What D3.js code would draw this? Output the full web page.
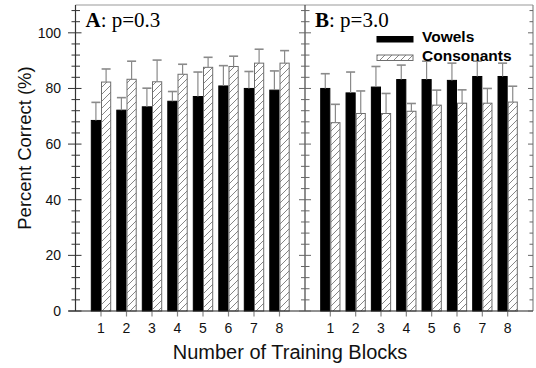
<!DOCTYPE html>
<html>
<head>
<meta charset="utf-8">
<script src="https://cdn.jsdelivr.net/npm/d3@7"></script>
<style>
  html, body { margin: 0; padding: 0; background: #fff; }
  svg { display: block; }
</style>
</head>
<body>
<svg id="chart" width="536" height="368"></svg>
<script>
// ---------------- data ----------------
const blocks = [1, 2, 3, 4, 5, 6, 7, 8];
const yTickLabels = [0, 20, 40, 60, 80, 100];
const seriesNames = ["Vowels", "Consonants"];
const panelLabels = [["A", ": p=0.3"], ["B", ": p=3.0"]];

const vowelsA     = [68.5, 72.2, 73.4, 75.4, 77.1, 80.9, 80.0, 79.4];
const vowelsErrA  = [6.5, 4.5, 6.7, 3.5, 8.8, 7.3, 6.1, 6.9];
const consA       = [82.3, 83.3, 82.4, 85.1, 87.6, 87.9, 89.1, 89.1];
const consErrA    = [4.7, 6.5, 7.8, 3.6, 3.6, 3.7, 5.0, 4.5];

const vowelsB     = [80.0, 78.4, 80.5, 83.2, 83.2, 82.9, 84.3, 84.3];
const vowelsErrB  = [5.3, 7.5, 7.4, 5.2, 6.6, 6.2, 5.5, 4.8];
const consB       = [67.7, 71.0, 71.0, 71.8, 74.0, 74.7, 74.7, 75.1];
const consErrB    = [6.6, 8.1, 7.2, 2.8, 5.4, 4.8, 5.3, 5.7];

// ---------------- layout ----------------
const svg = d3.select("#chart");
const yTop = 5, yBottom = 311;
const panelsX = [[75.5, 305], [305, 533]];
const y = d3.scaleLinear().domain([0, 110]).range([yBottom, yTop]);

const hs = 7;
const defs = svg.append("defs");
const pat = defs.append("pattern")
  .attr("id", "hatch").attr("patternUnits", "userSpaceOnUse")
  .attr("width", hs).attr("height", hs);
pat.append("rect").attr("width", hs).attr("height", hs).attr("fill", "#fff");
pat.append("path").attr("d", `M-1,${hs + 1} L${hs + 1},-1 M-1,1 L1,-1 M${hs - 1},${hs + 1} L${hs + 1},${hs - 1}`)
  .attr("stroke", "#707070").attr("stroke-width", 0.85);

const sans = "'Liberation Sans', Arial, Helvetica, sans-serif";
const serif = "'Liberation Serif', 'Times New Roman', serif";

const panelData = [
  { v: vowelsA, ve: vowelsErrA, c: consA, ce: consErrA },
  { v: vowelsB, ve: vowelsErrB, c: consB, ce: consErrB }
];

const minorTicks = d3.range(0, 110.01, 4);

panelData.forEach((pd, pi) => {
  const [x0, x1] = panelsX[pi];
  const x = d3.scaleLinear().domain([0, 9]).range([x0, x1]);
  const bw = (x(1) - x(0)) * 0.4;
  const g = svg.append("g");

  const series = [
    { vals: pd.v, errs: pd.ve, off: -bw, fill: "#000", stroke: "#000" },
    { vals: pd.c, errs: pd.ce, off: 0, fill: "url(#hatch)", stroke: "#6e6e6e" }
  ];
  series.forEach(s => {
    g.selectAll(null).data(blocks).enter().append("rect")
      .attr("x", d => x(d) + s.off + 0.5)
      .attr("width", bw - 1)
      .attr("y", (d, i) => y(s.vals[i]))
      .attr("height", (d, i) => yBottom - y(s.vals[i]))
      .attr("fill", s.fill).attr("stroke", s.stroke).attr("stroke-width", 1);
  });
  series.forEach(s => {
    const eg = g.selectAll(null).data(blocks).enter().append("g");
    eg.append("line")
      .attr("x1", d => x(d) + s.off + bw / 2).attr("x2", d => x(d) + s.off + bw / 2)
      .attr("y1", (d, i) => y(s.vals[i])).attr("y2", (d, i) => y(s.vals[i] + s.errs[i]))
      .attr("stroke", "#8a8a8a").attr("stroke-width", 1.2);
    eg.append("line")
      .attr("x1", d => x(d) + s.off + bw / 2 - 4.5).attr("x2", d => x(d) + s.off + bw / 2 + 4.5)
      .attr("y1", (d, i) => y(s.vals[i] + s.errs[i])).attr("y2", (d, i) => y(s.vals[i] + s.errs[i]))
      .attr("stroke", "#8a8a8a").attr("stroke-width", 1.6);
  });

  g.selectAll(null).data(blocks).enter().append("line")
    .attr("x1", d => x(d)).attr("x2", d => x(d))
    .attr("y1", yBottom).attr("y2", yBottom + 5.5)
    .attr("stroke", "#888").attr("stroke-width", 1.2);
  g.selectAll(null).data(blocks).enter().append("text")
    .attr("x", d => x(d)).attr("y", yBottom + 22)
    .attr("text-anchor", "middle")
    .attr("font-family", sans).attr("font-size", 14).attr("fill", "#111")
    .text(d => d);

  const t = g.append("text").attr("x", x0 + 10).attr("y", 27)
    .attr("font-family", serif).attr("font-size", 21).attr("fill", "#000");
  t.append("tspan").attr("font-weight", "bold").text(panelLabels[pi][0]);
  t.append("tspan").text(panelLabels[pi][1]);
});

// frame
svg.append("line").attr("x1", panelsX[0][0]).attr("x2", panelsX[1][1])
  .attr("y1", yTop).attr("y2", yTop).attr("stroke", "#999").attr("stroke-width", 1.2);
svg.append("line").attr("x1", panelsX[1][1]).attr("x2", panelsX[1][1])
  .attr("y1", yTop).attr("y2", yBottom).attr("stroke", "#888").attr("stroke-width", 1.2);
svg.append("line").attr("x1", panelsX[0][0]).attr("x2", panelsX[0][0])
  .attr("y1", yTop).attr("y2", yBottom).attr("stroke", "#333").attr("stroke-width", 1.2);
svg.append("line").attr("x1", panelsX[1][0]).attr("x2", panelsX[1][0])
  .attr("y1", yTop).attr("y2", yBottom).attr("stroke", "#444").attr("stroke-width", 1.2);
svg.append("line").attr("x1", panelsX[0][0] - 7).attr("x2", panelsX[1][1])
  .attr("y1", yBottom).attr("y2", yBottom).attr("stroke", "#222").attr("stroke-width", 1.2);

// y ticks
const isMajor = v => yTickLabels.includes(v);
[panelsX[0][0], panelsX[1][0]].forEach((ax, k) => {
  svg.selectAll(null).data(minorTicks).enter().append("line")
    .attr("x1", d => ax - (isMajor(d) ? (k === 0 ? 7.5 : 6) : 4))
    .attr("x2", d => ax + (isMajor(d) ? 6 : 4.5))
    .attr("y1", d => y(d)).attr("y2", d => y(d))
    .attr("stroke", k === 0 ? "#333" : "#666").attr("stroke-width", 1);
});
svg.selectAll(null).data(minorTicks).enter().append("line")
  .attr("x1", d => panelsX[1][1] - (isMajor(d) ? 5 : 3.5)).attr("x2", panelsX[1][1])
  .attr("y1", d => y(d)).attr("y2", d => y(d))
  .attr("stroke", "#666").attr("stroke-width", 1);

svg.selectAll(null).data(yTickLabels).enter().append("text")
  .attr("x", 61).attr("y", d => y(d)).attr("dy", "0.36em")
  .attr("text-anchor", "end")
  .attr("font-family", sans).attr("font-size", 14).attr("fill", "#111")
  .text(d => d);

// axis titles
svg.append("text")
  .attr("transform", `translate(31,${(yTop + yBottom) / 2 - 10}) rotate(-90)`)
  .attr("text-anchor", "middle")
  .attr("font-family", sans).attr("font-size", 18.5).attr("fill", "#111")
  .text("Percent Correct (%)");
svg.append("text")
  .attr("x", 290).attr("y", 359)
  .attr("text-anchor", "middle")
  .attr("font-family", sans).attr("font-size", 20).attr("fill", "#111")
  .text("Number of Training Blocks");

// legend
const lg = svg.append("g").attr("transform", "translate(377,0)");
const legendFills = ["#000", "url(#hatch)"];
const legendStrokes = ["#000", "#6e6e6e"];
const legendY = [36.5, 55];
seriesNames.forEach((name, i) => {
  lg.append("rect").attr("x", 0).attr("y", legendY[i]).attr("width", 36).attr("height", 5.5)
    .attr("fill", legendFills[i]).attr("stroke", legendStrokes[i]).attr("stroke-width", 1);
  lg.append("text").attr("x", 45).attr("y", legendY[i] + 5.5)
    .attr("font-family", sans).attr("font-weight", "bold").attr("font-size", 15.5).attr("fill", "#000")
    .text(name);
});
</script>
</body>
</html>
